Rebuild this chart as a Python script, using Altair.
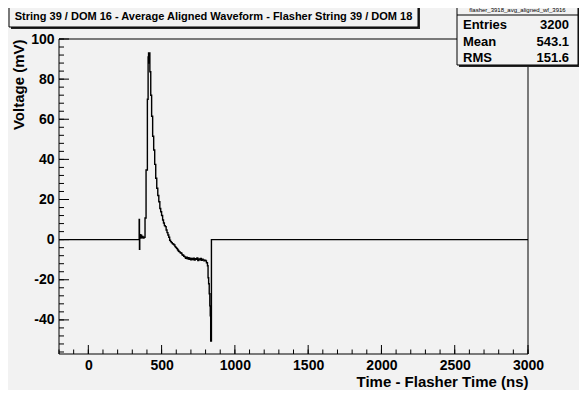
import altair as alt
import pandas as pd

# Waveform (step histogram): start time of each step (ns) and its voltage (mV)
times = [-200, 347, 349, 351, 354, 357, 360, 364, 368, 373, 380, 387, 394, 403, 408, 411, 414, 416, 420,
         426, 432, 439, 446, 453, 460, 467, 474, 481, 488, 494, 500, 507, 513, 519, 525, 531, 537, 543,
         549, 555, 561, 567, 573, 579, 585, 591, 597, 603, 609, 615, 621, 627, 633, 639, 645, 651, 657,
         663, 669, 675, 681, 687, 693, 699, 705, 711, 717, 723, 729, 735, 741, 747, 753, 759, 765, 771,
         777, 783, 789, 795, 801, 806, 813, 817, 821, 825, 829, 832, 835, 840, 3000]
volts = [0, 10, -4.8, 1.5, 2.5, 0.8, 2.2, 1.0, 1.6, 0.8, 1.2, 10.8, 34.7, 70, 91, 93, 88, 93, 83.7,
         72, 61.5, 51.5, 44.7, 37.5, 30.6, 25.6, 22, 18.9, 15.5, 13.9, 12, 9.8, 8.3, 7, 6.5, 4.8, 3.5, 2.3,
         1.2, -0.3, -1, -1.5, -2, -2.3, -2.7, -3.5, -4, -4.5, -5.2, -5.8, -6.1, -6.5, -6.8, -7.5, -7.8, -8.3, -8.6,
         -9.3, -8.8, -9.6, -9.0, -9.8, -9.2, -10.1, -9.4, -9.9, -9.3, -10.2, -9.5, -9.8, -9.1, -10.4, -9.6, -10.0, -9.4, -10.3,
         -9.7, -10.1, -10.5, -10.2, -10.6, -11.5, -13, -19, -22, -27, -33, -38, -50.5, 0, 0]

x_major = [0, 500, 1000, 1500, 2000, 2500, 3000]
x_minor = list(range(-200, 3001, 100))
y_major = [-40, -20, 0, 20, 40, 60, 80, 100]
y_minor = list(range(-56, 101, 4))

title_text = "String 39 / DOM 16 - Average Aligned Waveform - Flasher String 39 / DOM 18"
stats_name = "flasher_3918_avg_aligned_wf_3916"
stats_labels = ["Entries", "Mean", "RMS"]
stats_values = ["3200", "543.1", "151.6"]

W, H = 469, 315
BG = "#f2f2f2"
FONT = "Liberation Sans"

xs = alt.Scale(domain=[-200, 3000], nice=False, zero=False)
ys = alt.Scale(domain=[-57, 100], nice=False, zero=False)

xaxis = alt.Axis(values=x_major, labelExpr="'' + datum.value", grid=False, ticks=False, tickSize=0, domain=False,
                 labelFont=FONT, labelFontWeight="bold", labelFontSize=14, labelColor="black",
                 labelPadding=4, labelFlush=False, labelOverlap=False,
                 title="Time - Flasher Time (ns)", titleFont=FONT, titleFontWeight="bold",
                 titleFontSize=15, titleColor="black", titleAnchor="end", titleAlign="right",
                 titleBaseline="alphabetic", titleX=W, titleY=32)
yaxis = alt.Axis(values=y_major, labelExpr="'' + datum.value", grid=False, ticks=False, tickSize=0, domain=False,
                 labelFont=FONT, labelFontWeight="bold", labelFontSize=14, labelColor="black",
                 labelPadding=5, labelFlush=False, labelOverlap=False,
                 title="Voltage (mV)", titleFont=FONT, titleFontWeight="bold",
                 titleFontSize=15, titleColor="black", titleAngle=-90, titleAlign="right",
                 titleBaseline="alphabetic", titleX=-36, titleY=0)


def X(field):
    return alt.X(field, type="quantitative", scale=xs, axis=xaxis)


def Y(field):
    return alt.Y(field, type="quantitative", scale=ys, axis=yaxis)


wave = pd.DataFrame({"t": times, "v": volts})
one = pd.DataFrame({"k": [0]})

line = alt.Chart(wave).mark_line(interpolate="step-after", color="black", strokeWidth=1.4).encode(
    x=X("t"), y=Y("v"))

xmaj = alt.Chart(pd.DataFrame({"t": x_major})).mark_rule(color="black", strokeWidth=1).encode(
    x=X("t"), y=alt.value(H), y2=alt.value(H - 9))
xmin = alt.Chart(pd.DataFrame({"t": x_minor})).mark_rule(color="black", strokeWidth=1).encode(
    x=X("t"), y=alt.value(H), y2=alt.value(H - 4.5))
ymaj = alt.Chart(pd.DataFrame({"v": y_major})).mark_rule(color="black", strokeWidth=1).encode(
    y=Y("v"), x=alt.value(0), x2=alt.value(10))
ymin = alt.Chart(pd.DataFrame({"v": y_minor})).mark_rule(color="black", strokeWidth=1).encode(
    y=Y("v"), x=alt.value(0), x2=alt.value(5))

frame = alt.Chart(one).mark_rect(fill=None, stroke="black", strokeWidth=1).encode(
    x=alt.value(0), x2=alt.value(W), y=alt.value(0), y2=alt.value(H))


def box(x0, x1, y0, y1, fill, stroke=None):
    kw = dict(fill=fill)
    if stroke:
        kw.update(stroke=stroke, strokeWidth=1)
    return alt.Chart(one).mark_rect(**kw).encode(
        x=alt.value(x0), x2=alt.value(x1), y=alt.value(y0), y2=alt.value(y1))


def txt(s, x, y, size, align="left", bold=True):
    return alt.Chart(one).mark_text(font=FONT, fontSize=size, fontWeight="bold" if bold else "normal",
                                    align=align, baseline="alphabetic", color="black").encode(
        x=alt.value(x), y=alt.value(y), text=alt.value(s))


# title box
tb = [box(-48, 361, -33, -10, "#222222"), box(-50, 359, -35, -12, BG, "black"),
      txt(title_text, 154.5, -19, 11, "center")]

# stats box
sb = [box(400, 521, -32, 28, "#222222"), box(398, 519, -34, 26, BG, "black"),
      alt.Chart(one).mark_rule(color="black").encode(x=alt.value(398), x2=alt.value(519), y=alt.value(-24)),
      txt(stats_name, 458.5, -27, 6, "center", bold=False)]
for i, (lab, val) in enumerate(zip(stats_labels, stats_values)):
    yb = -9.7 + i * 16.5
    sb.append(txt(lab, 404, yb, 13, "left"))
    sb.append(txt(val, 510, yb, 13, "right"))

chart = alt.layer(line, xmaj, xmin, ymaj, ymin, frame, *tb, *sb).properties(
    width=W, height=H,
    autosize=alt.AutoSizeParams(type="none"),
    padding={"left": 51, "top": 31, "right": 51, "bottom": 36},
    background=BG,
).configure_view(stroke=None)

chart.save("out.html", embed_options={"renderer": "svg", "actions": False})
